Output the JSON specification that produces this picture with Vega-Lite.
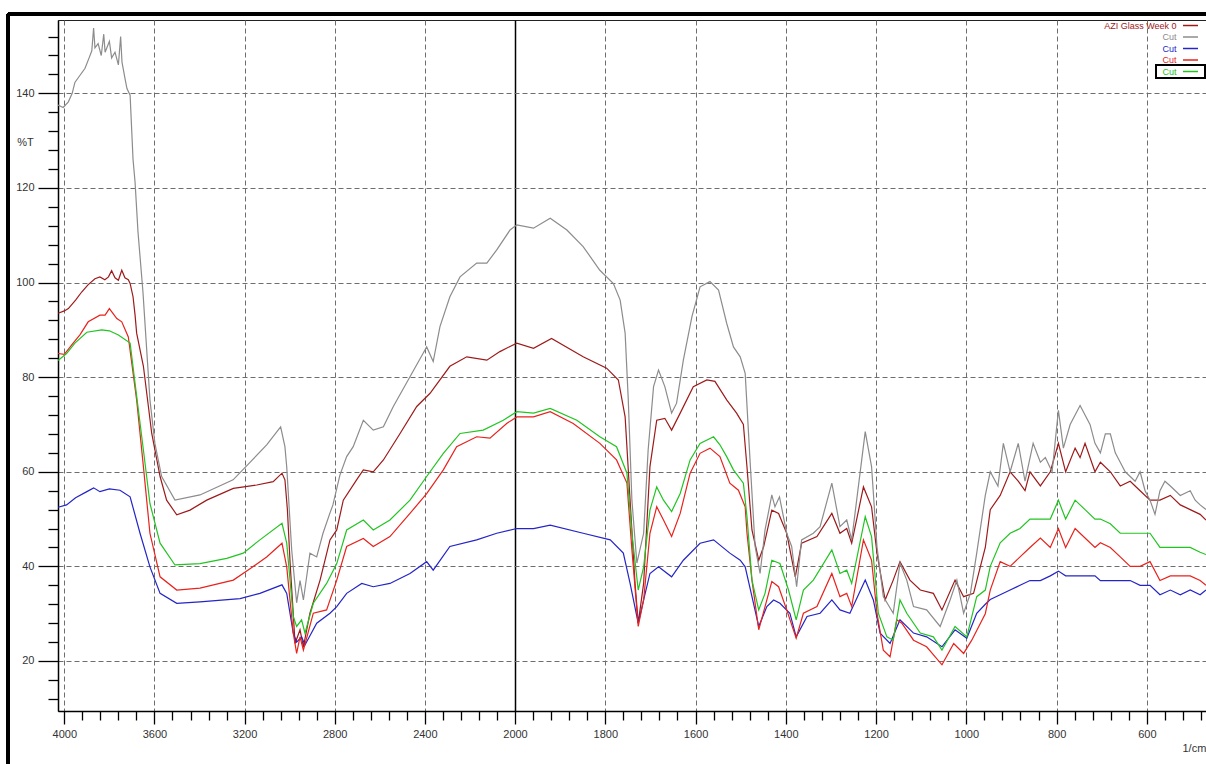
{
  "$schema": "https://vega.github.io/schema/vega-lite/v6.json",
  "width": 1148,
  "height": 691,
  "autosize": "none",
  "padding": {"left": 58, "top": 20, "right": 0, "bottom": 53},
  "background": "white",
  "config": {
    "view": {"stroke": "#222", "strokeWidth": 1},
    "font": "Liberation Sans"
  },
  "data": {"values": [
    {"s":"AZI Glass Week 0","w":4028,"t":93.5},{"s":"AZI Glass Week 0","w":4000,"t":94},{"s":"AZI Glass Week 0","w":3982,"t":94.5},{"s":"AZI Glass Week 0","w":3950,"t":96.3},{"s":"AZI Glass Week 0","w":3923,"t":98},{"s":"AZI Glass Week 0","w":3895,"t":99.5},{"s":"AZI Glass Week 0","w":3864,"t":100.8},{"s":"AZI Glass Week 0","w":3842,"t":101.2},{"s":"AZI Glass Week 0","w":3820,"t":100.6},{"s":"AZI Glass Week 0","w":3804,"t":101.2},{"s":"AZI Glass Week 0","w":3790,"t":102.5},{"s":"AZI Glass Week 0","w":3775,"t":101},{"s":"AZI Glass Week 0","w":3760,"t":100.5},{"s":"AZI Glass Week 0","w":3745,"t":102.6},{"s":"AZI Glass Week 0","w":3731,"t":101},{"s":"AZI Glass Week 0","w":3716,"t":100.6},{"s":"AZI Glass Week 0","w":3708,"t":99.8},{"s":"AZI Glass Week 0","w":3695,"t":97},{"s":"AZI Glass Week 0","w":3686,"t":93.1},{"s":"AZI Glass Week 0","w":3679,"t":89.3},{"s":"AZI Glass Week 0","w":3649,"t":82.3},{"s":"AZI Glass Week 0","w":3612,"t":68.1},{"s":"AZI Glass Week 0","w":3575,"t":59},{"s":"AZI Glass Week 0","w":3546,"t":54},{"s":"AZI Glass Week 0","w":3501,"t":50.9},{"s":"AZI Glass Week 0","w":3442,"t":51.9},{"s":"AZI Glass Week 0","w":3368,"t":54},{"s":"AZI Glass Week 0","w":3250,"t":56.5},{"s":"AZI Glass Week 0","w":3146,"t":57.2},{"s":"AZI Glass Week 0","w":3073,"t":57.9},{"s":"AZI Glass Week 0","w":3034,"t":59.7},{"s":"AZI Glass Week 0","w":3021,"t":58.3},{"s":"AZI Glass Week 0","w":3010,"t":52},{"s":"AZI Glass Week 0","w":2998,"t":40.7},{"s":"AZI Glass Week 0","w":2984,"t":30},{"s":"AZI Glass Week 0","w":2976,"t":23.7},{"s":"AZI Glass Week 0","w":2954,"t":26.6},{"s":"AZI Glass Week 0","w":2939,"t":23},{"s":"AZI Glass Week 0","w":2910,"t":30.1},{"s":"AZI Glass Week 0","w":2865,"t":37.1},{"s":"AZI Glass Week 0","w":2821,"t":45.6},{"s":"AZI Glass Week 0","w":2791,"t":47.7},{"s":"AZI Glass Week 0","w":2762,"t":54},{"s":"AZI Glass Week 0","w":2703,"t":58.3},{"s":"AZI Glass Week 0","w":2673,"t":60.4},{"s":"AZI Glass Week 0","w":2629,"t":60},{"s":"AZI Glass Week 0","w":2584,"t":62.5},{"s":"AZI Glass Week 0","w":2510,"t":68.1},{"s":"AZI Glass Week 0","w":2436,"t":73.8},{"s":"AZI Glass Week 0","w":2377,"t":76.6},{"s":"AZI Glass Week 0","w":2289,"t":82.3},{"s":"AZI Glass Week 0","w":2214,"t":84.3},{"s":"AZI Glass Week 0","w":2125,"t":83.6},{"s":"AZI Glass Week 0","w":2067,"t":85.4},{"s":"AZI Glass Week 0","w":2022,"t":86.5},{"s":"AZI Glass Week 0","w":1996,"t":87.2},{"s":"AZI Glass Week 0","w":1959,"t":86.1},{"s":"AZI Glass Week 0","w":1919,"t":88.2},{"s":"AZI Glass Week 0","w":1849,"t":84.3},{"s":"AZI Glass Week 0","w":1797,"t":81.9},{"s":"AZI Glass Week 0","w":1771,"t":79.4},{"s":"AZI Glass Week 0","w":1756,"t":71.6},{"s":"AZI Glass Week 0","w":1745,"t":54},{"s":"AZI Glass Week 0","w":1734,"t":36.4},{"s":"AZI Glass Week 0","w":1727,"t":28},{"s":"AZI Glass Week 0","w":1715,"t":36.4},{"s":"AZI Glass Week 0","w":1701,"t":61.1},{"s":"AZI Glass Week 0","w":1686,"t":70.9},{"s":"AZI Glass Week 0","w":1668,"t":71.3},{"s":"AZI Glass Week 0","w":1653,"t":68.8},{"s":"AZI Glass Week 0","w":1634,"t":72.4},{"s":"AZI Glass Week 0","w":1605,"t":78},{"s":"AZI Glass Week 0","w":1575,"t":79.4},{"s":"AZI Glass Week 0","w":1557,"t":79.1},{"s":"AZI Glass Week 0","w":1531,"t":75.2},{"s":"AZI Glass Week 0","w":1509,"t":72.4},{"s":"AZI Glass Week 0","w":1494,"t":70},{"s":"AZI Glass Week 0","w":1486,"t":61},{"s":"AZI Glass Week 0","w":1475,"t":47.7},{"s":"AZI Glass Week 0","w":1460,"t":41.3},{"s":"AZI Glass Week 0","w":1449,"t":44.2},{"s":"AZI Glass Week 0","w":1431,"t":51.9},{"s":"AZI Glass Week 0","w":1416,"t":51.2},{"s":"AZI Glass Week 0","w":1398,"t":47},{"s":"AZI Glass Week 0","w":1379,"t":37.8},{"s":"AZI Glass Week 0","w":1365,"t":44.9},{"s":"AZI Glass Week 0","w":1331,"t":46.3},{"s":"AZI Glass Week 0","w":1298,"t":51.2},{"s":"AZI Glass Week 0","w":1280,"t":47},{"s":"AZI Glass Week 0","w":1265,"t":48},{"s":"AZI Glass Week 0","w":1254,"t":44.9},{"s":"AZI Glass Week 0","w":1228,"t":56.8},{"s":"AZI Glass Week 0","w":1210,"t":52.6},{"s":"AZI Glass Week 0","w":1198,"t":42.8},{"s":"AZI Glass Week 0","w":1180,"t":32.9},{"s":"AZI Glass Week 0","w":1162,"t":37.1},{"s":"AZI Glass Week 0","w":1147,"t":41},{"s":"AZI Glass Week 0","w":1125,"t":37.1},{"s":"AZI Glass Week 0","w":1102,"t":35},{"s":"AZI Glass Week 0","w":1073,"t":34.3},{"s":"AZI Glass Week 0","w":1054,"t":30.8},{"s":"AZI Glass Week 0","w":1025,"t":37.1},{"s":"AZI Glass Week 0","w":1006,"t":33.6},{"s":"AZI Glass Week 0","w":984,"t":34.3},{"s":"AZI Glass Week 0","w":958,"t":44},{"s":"AZI Glass Week 0","w":947,"t":52},{"s":"AZI Glass Week 0","w":925,"t":55},{"s":"AZI Glass Week 0","w":903,"t":60},{"s":"AZI Glass Week 0","w":885,"t":58},{"s":"AZI Glass Week 0","w":870,"t":56},{"s":"AZI Glass Week 0","w":859,"t":60},{"s":"AZI Glass Week 0","w":836,"t":57},{"s":"AZI Glass Week 0","w":814,"t":60},{"s":"AZI Glass Week 0","w":796,"t":66},{"s":"AZI Glass Week 0","w":780,"t":60},{"s":"AZI Glass Week 0","w":759,"t":65},{"s":"AZI Glass Week 0","w":748,"t":63},{"s":"AZI Glass Week 0","w":737,"t":66},{"s":"AZI Glass Week 0","w":715,"t":60},{"s":"AZI Glass Week 0","w":703,"t":62},{"s":"AZI Glass Week 0","w":681,"t":60},{"s":"AZI Glass Week 0","w":659,"t":57},{"s":"AZI Glass Week 0","w":637,"t":58},{"s":"AZI Glass Week 0","w":615,"t":56},{"s":"AZI Glass Week 0","w":593,"t":54},{"s":"AZI Glass Week 0","w":571,"t":54},{"s":"AZI Glass Week 0","w":548,"t":55},{"s":"AZI Glass Week 0","w":526,"t":53},{"s":"AZI Glass Week 0","w":504,"t":52},{"s":"AZI Glass Week 0","w":482,"t":51},{"s":"AZI Glass Week 0","w":469,"t":49.8},

    {"s":"Cut 1","w":4028,"t":137.5},{"s":"Cut 1","w":4005,"t":137},{"s":"Cut 1","w":3982,"t":138.2},{"s":"Cut 1","w":3965,"t":140},{"s":"Cut 1","w":3953,"t":142.3},{"s":"Cut 1","w":3935,"t":143.5},{"s":"Cut 1","w":3908,"t":145.3},{"s":"Cut 1","w":3890,"t":147.5},{"s":"Cut 1","w":3878,"t":149},{"s":"Cut 1","w":3870,"t":153.8},{"s":"Cut 1","w":3864,"t":149.6},{"s":"Cut 1","w":3850,"t":150.5},{"s":"Cut 1","w":3836,"t":148},{"s":"Cut 1","w":3825,"t":152.5},{"s":"Cut 1","w":3819,"t":148.7},{"s":"Cut 1","w":3800,"t":151},{"s":"Cut 1","w":3790,"t":147.5},{"s":"Cut 1","w":3775,"t":148.7},{"s":"Cut 1","w":3760,"t":146},{"s":"Cut 1","w":3750,"t":152},{"s":"Cut 1","w":3744,"t":146.6},{"s":"Cut 1","w":3731,"t":143.2},{"s":"Cut 1","w":3722,"t":141},{"s":"Cut 1","w":3708,"t":139.6},{"s":"Cut 1","w":3695,"t":126},{"s":"Cut 1","w":3686,"t":121.2},{"s":"Cut 1","w":3673,"t":110.7},{"s":"Cut 1","w":3651,"t":98},{"s":"Cut 1","w":3620,"t":75.2},{"s":"Cut 1","w":3598,"t":66},{"s":"Cut 1","w":3568,"t":59},{"s":"Cut 1","w":3509,"t":54},{"s":"Cut 1","w":3398,"t":55.1},{"s":"Cut 1","w":3251,"t":58.3},{"s":"Cut 1","w":3176,"t":62},{"s":"Cut 1","w":3102,"t":65.7},{"s":"Cut 1","w":3040,"t":69.5},{"s":"Cut 1","w":3021,"t":65.3},{"s":"Cut 1","w":3013,"t":61},{"s":"Cut 1","w":2991,"t":43.5},{"s":"Cut 1","w":2969,"t":32.3},{"s":"Cut 1","w":2954,"t":37},{"s":"Cut 1","w":2939,"t":32.9},{"s":"Cut 1","w":2910,"t":42.8},{"s":"Cut 1","w":2880,"t":42},{"s":"Cut 1","w":2852,"t":47},{"s":"Cut 1","w":2821,"t":51.3},{"s":"Cut 1","w":2808,"t":53},{"s":"Cut 1","w":2777,"t":59.3},{"s":"Cut 1","w":2747,"t":63.2},{"s":"Cut 1","w":2718,"t":65.3},{"s":"Cut 1","w":2673,"t":70.9},{"s":"Cut 1","w":2629,"t":68.8},{"s":"Cut 1","w":2584,"t":69.5},{"s":"Cut 1","w":2540,"t":73.8},{"s":"Cut 1","w":2466,"t":80.1},{"s":"Cut 1","w":2407,"t":85.1},{"s":"Cut 1","w":2392,"t":86.4},{"s":"Cut 1","w":2363,"t":83.3},{"s":"Cut 1","w":2333,"t":90.7},{"s":"Cut 1","w":2289,"t":97},{"s":"Cut 1","w":2244,"t":101.2},{"s":"Cut 1","w":2170,"t":104.1},{"s":"Cut 1","w":2125,"t":104.1},{"s":"Cut 1","w":2081,"t":106.9},{"s":"Cut 1","w":2022,"t":111.1},{"s":"Cut 1","w":1996,"t":112.2},{"s":"Cut 1","w":1959,"t":111.5},{"s":"Cut 1","w":1922,"t":113.6},{"s":"Cut 1","w":1885,"t":111.1},{"s":"Cut 1","w":1849,"t":107.6},{"s":"Cut 1","w":1812,"t":102.6},{"s":"Cut 1","w":1782,"t":99.8},{"s":"Cut 1","w":1767,"t":96.3},{"s":"Cut 1","w":1756,"t":89.3},{"s":"Cut 1","w":1749,"t":75.2},{"s":"Cut 1","w":1741,"t":54},{"s":"Cut 1","w":1730,"t":40.7},{"s":"Cut 1","w":1715,"t":47},{"s":"Cut 1","w":1705,"t":64.6},{"s":"Cut 1","w":1693,"t":78},{"s":"Cut 1","w":1682,"t":81.5},{"s":"Cut 1","w":1668,"t":78},{"s":"Cut 1","w":1653,"t":72.4},{"s":"Cut 1","w":1642,"t":74.5},{"s":"Cut 1","w":1627,"t":83.6},{"s":"Cut 1","w":1608,"t":92.8},{"s":"Cut 1","w":1590,"t":99.1},{"s":"Cut 1","w":1568,"t":100.2},{"s":"Cut 1","w":1549,"t":98.4},{"s":"Cut 1","w":1531,"t":91.4},{"s":"Cut 1","w":1516,"t":86.4},{"s":"Cut 1","w":1501,"t":84.3},{"s":"Cut 1","w":1490,"t":80.8},{"s":"Cut 1","w":1479,"t":62},{"s":"Cut 1","w":1468,"t":44.2},{"s":"Cut 1","w":1457,"t":38.5},{"s":"Cut 1","w":1446,"t":47.7},{"s":"Cut 1","w":1431,"t":55.1},{"s":"Cut 1","w":1424,"t":52.6},{"s":"Cut 1","w":1414,"t":54.7},{"s":"Cut 1","w":1398,"t":47},{"s":"Cut 1","w":1387,"t":44.2},{"s":"Cut 1","w":1376,"t":35.7},{"s":"Cut 1","w":1365,"t":45.6},{"s":"Cut 1","w":1339,"t":47},{"s":"Cut 1","w":1324,"t":48.4},{"s":"Cut 1","w":1298,"t":57.6},{"s":"Cut 1","w":1280,"t":48.4},{"s":"Cut 1","w":1265,"t":49.8},{"s":"Cut 1","w":1254,"t":45.6},{"s":"Cut 1","w":1243,"t":54},{"s":"Cut 1","w":1224,"t":68.5},{"s":"Cut 1","w":1210,"t":61.1},{"s":"Cut 1","w":1198,"t":44.2},{"s":"Cut 1","w":1184,"t":33.6},{"s":"Cut 1","w":1162,"t":30.1},{"s":"Cut 1","w":1147,"t":40.7},{"s":"Cut 1","w":1132,"t":37.1},{"s":"Cut 1","w":1117,"t":31.5},{"s":"Cut 1","w":1088,"t":30.8},{"s":"Cut 1","w":1058,"t":27.3},{"s":"Cut 1","w":1036,"t":32.9},{"s":"Cut 1","w":1021,"t":37.1},{"s":"Cut 1","w":1006,"t":30.1},{"s":"Cut 1","w":991,"t":34.3},{"s":"Cut 1","w":977,"t":42.8},{"s":"Cut 1","w":958,"t":55},{"s":"Cut 1","w":947,"t":60},{"s":"Cut 1","w":930,"t":57},{"s":"Cut 1","w":918,"t":66},{"s":"Cut 1","w":903,"t":60},{"s":"Cut 1","w":885,"t":66},{"s":"Cut 1","w":870,"t":58},{"s":"Cut 1","w":852,"t":66},{"s":"Cut 1","w":836,"t":62},{"s":"Cut 1","w":825,"t":63},{"s":"Cut 1","w":810,"t":60},{"s":"Cut 1","w":796,"t":73},{"s":"Cut 1","w":785,"t":65},{"s":"Cut 1","w":770,"t":70},{"s":"Cut 1","w":759,"t":72},{"s":"Cut 1","w":748,"t":74},{"s":"Cut 1","w":737,"t":72},{"s":"Cut 1","w":726,"t":70},{"s":"Cut 1","w":715,"t":66},{"s":"Cut 1","w":703,"t":64},{"s":"Cut 1","w":692,"t":68},{"s":"Cut 1","w":681,"t":68},{"s":"Cut 1","w":670,"t":64},{"s":"Cut 1","w":659,"t":62},{"s":"Cut 1","w":648,"t":60},{"s":"Cut 1","w":637,"t":59},{"s":"Cut 1","w":626,"t":58},{"s":"Cut 1","w":615,"t":60},{"s":"Cut 1","w":604,"t":56},{"s":"Cut 1","w":593,"t":54},{"s":"Cut 1","w":582,"t":51},{"s":"Cut 1","w":571,"t":56},{"s":"Cut 1","w":560,"t":58},{"s":"Cut 1","w":548,"t":57},{"s":"Cut 1","w":537,"t":56},{"s":"Cut 1","w":526,"t":55},{"s":"Cut 1","w":504,"t":56},{"s":"Cut 1","w":493,"t":54},{"s":"Cut 1","w":482,"t":53},{"s":"Cut 1","w":469,"t":52},

    {"s":"Cut 2","w":4028,"t":52.5},{"s":"Cut 2","w":3990,"t":53},{"s":"Cut 2","w":3950,"t":54.5},{"s":"Cut 2","w":3900,"t":55.8},{"s":"Cut 2","w":3870,"t":56.6},{"s":"Cut 2","w":3842,"t":55.8},{"s":"Cut 2","w":3800,"t":56.4},{"s":"Cut 2","w":3753,"t":56.1},{"s":"Cut 2","w":3708,"t":54.7},{"s":"Cut 2","w":3664,"t":47},{"s":"Cut 2","w":3620,"t":39.9},{"s":"Cut 2","w":3575,"t":34.3},{"s":"Cut 2","w":3501,"t":32.2},{"s":"Cut 2","w":3398,"t":32.5},{"s":"Cut 2","w":3220,"t":33.2},{"s":"Cut 2","w":3132,"t":34.3},{"s":"Cut 2","w":3034,"t":36.1},{"s":"Cut 2","w":3013,"t":34.3},{"s":"Cut 2","w":2984,"t":25.9},{"s":"Cut 2","w":2969,"t":24},{"s":"Cut 2","w":2947,"t":25.1},{"s":"Cut 2","w":2932,"t":23.4},{"s":"Cut 2","w":2880,"t":28},{"s":"Cut 2","w":2821,"t":30.1},{"s":"Cut 2","w":2791,"t":31.5},{"s":"Cut 2","w":2747,"t":34.3},{"s":"Cut 2","w":2680,"t":36.4},{"s":"Cut 2","w":2629,"t":35.7},{"s":"Cut 2","w":2555,"t":36.4},{"s":"Cut 2","w":2466,"t":38.5},{"s":"Cut 2","w":2392,"t":41},{"s":"Cut 2","w":2363,"t":39.2},{"s":"Cut 2","w":2289,"t":44.2},{"s":"Cut 2","w":2170,"t":45.6},{"s":"Cut 2","w":2081,"t":47},{"s":"Cut 2","w":1996,"t":48},{"s":"Cut 2","w":1959,"t":48},{"s":"Cut 2","w":1922,"t":48.7},{"s":"Cut 2","w":1849,"t":47},{"s":"Cut 2","w":1789,"t":45.6},{"s":"Cut 2","w":1760,"t":42.8},{"s":"Cut 2","w":1745,"t":36.4},{"s":"Cut 2","w":1727,"t":28},{"s":"Cut 2","w":1715,"t":32.9},{"s":"Cut 2","w":1701,"t":38.5},{"s":"Cut 2","w":1682,"t":39.9},{"s":"Cut 2","w":1653,"t":37.8},{"s":"Cut 2","w":1627,"t":41.3},{"s":"Cut 2","w":1590,"t":44.9},{"s":"Cut 2","w":1560,"t":45.6},{"s":"Cut 2","w":1524,"t":42.8},{"s":"Cut 2","w":1501,"t":41.3},{"s":"Cut 2","w":1490,"t":39.9},{"s":"Cut 2","w":1475,"t":33.6},{"s":"Cut 2","w":1460,"t":27.3},{"s":"Cut 2","w":1442,"t":31.5},{"s":"Cut 2","w":1427,"t":32.9},{"s":"Cut 2","w":1413,"t":32.2},{"s":"Cut 2","w":1391,"t":30.1},{"s":"Cut 2","w":1377,"t":25.1},{"s":"Cut 2","w":1353,"t":29.4},{"s":"Cut 2","w":1324,"t":30.1},{"s":"Cut 2","w":1298,"t":32.9},{"s":"Cut 2","w":1280,"t":30.8},{"s":"Cut 2","w":1258,"t":30.1},{"s":"Cut 2","w":1224,"t":37.1},{"s":"Cut 2","w":1206,"t":32.9},{"s":"Cut 2","w":1191,"t":25.9},{"s":"Cut 2","w":1169,"t":23.7},{"s":"Cut 2","w":1147,"t":28.7},{"s":"Cut 2","w":1117,"t":25.9},{"s":"Cut 2","w":1088,"t":25.1},{"s":"Cut 2","w":1054,"t":23},{"s":"Cut 2","w":1025,"t":26.6},{"s":"Cut 2","w":999,"t":24.8},{"s":"Cut 2","w":977,"t":30.1},{"s":"Cut 2","w":958,"t":32},{"s":"Cut 2","w":947,"t":33},{"s":"Cut 2","w":925,"t":34},{"s":"Cut 2","w":903,"t":35},{"s":"Cut 2","w":881,"t":36},{"s":"Cut 2","w":859,"t":37},{"s":"Cut 2","w":836,"t":37},{"s":"Cut 2","w":814,"t":38},{"s":"Cut 2","w":796,"t":39},{"s":"Cut 2","w":780,"t":38},{"s":"Cut 2","w":759,"t":38},{"s":"Cut 2","w":737,"t":38},{"s":"Cut 2","w":715,"t":38},{"s":"Cut 2","w":703,"t":37},{"s":"Cut 2","w":681,"t":37},{"s":"Cut 2","w":659,"t":37},{"s":"Cut 2","w":637,"t":37},{"s":"Cut 2","w":615,"t":36},{"s":"Cut 2","w":593,"t":36},{"s":"Cut 2","w":571,"t":34},{"s":"Cut 2","w":548,"t":35},{"s":"Cut 2","w":526,"t":34},{"s":"Cut 2","w":504,"t":35},{"s":"Cut 2","w":482,"t":34},{"s":"Cut 2","w":469,"t":35},

    {"s":"Cut 3","w":4028,"t":85},{"s":"Cut 3","w":4000,"t":84.8},{"s":"Cut 3","w":3967,"t":86.8},{"s":"Cut 3","w":3930,"t":89},{"s":"Cut 3","w":3894,"t":91.7},{"s":"Cut 3","w":3842,"t":93.1},{"s":"Cut 3","w":3819,"t":93.1},{"s":"Cut 3","w":3800,"t":94.5},{"s":"Cut 3","w":3767,"t":92.4},{"s":"Cut 3","w":3745,"t":91.7},{"s":"Cut 3","w":3716,"t":88.5},{"s":"Cut 3","w":3679,"t":75.2},{"s":"Cut 3","w":3649,"t":61.1},{"s":"Cut 3","w":3620,"t":47},{"s":"Cut 3","w":3575,"t":37.8},{"s":"Cut 3","w":3501,"t":35},{"s":"Cut 3","w":3398,"t":35.4},{"s":"Cut 3","w":3250,"t":37.1},{"s":"Cut 3","w":3176,"t":39.5},{"s":"Cut 3","w":3102,"t":42},{"s":"Cut 3","w":3034,"t":44.9},{"s":"Cut 3","w":3013,"t":39.9},{"s":"Cut 3","w":2984,"t":25.9},{"s":"Cut 3","w":2969,"t":21.6},{"s":"Cut 3","w":2954,"t":25.1},{"s":"Cut 3","w":2939,"t":22.3},{"s":"Cut 3","w":2895,"t":30.1},{"s":"Cut 3","w":2836,"t":30.8},{"s":"Cut 3","w":2791,"t":37.1},{"s":"Cut 3","w":2747,"t":44.2},{"s":"Cut 3","w":2673,"t":45.9},{"s":"Cut 3","w":2629,"t":44.2},{"s":"Cut 3","w":2555,"t":46.3},{"s":"Cut 3","w":2466,"t":51.2},{"s":"Cut 3","w":2392,"t":55.4},{"s":"Cut 3","w":2318,"t":60.4},{"s":"Cut 3","w":2259,"t":65.3},{"s":"Cut 3","w":2170,"t":67.4},{"s":"Cut 3","w":2111,"t":67.1},{"s":"Cut 3","w":2037,"t":70.2},{"s":"Cut 3","w":1996,"t":71.6},{"s":"Cut 3","w":1959,"t":71.6},{"s":"Cut 3","w":1922,"t":72.7},{"s":"Cut 3","w":1871,"t":70.2},{"s":"Cut 3","w":1812,"t":66},{"s":"Cut 3","w":1775,"t":62.5},{"s":"Cut 3","w":1752,"t":57.6},{"s":"Cut 3","w":1741,"t":43.5},{"s":"Cut 3","w":1727,"t":27.3},{"s":"Cut 3","w":1715,"t":32.9},{"s":"Cut 3","w":1701,"t":47},{"s":"Cut 3","w":1686,"t":52.6},{"s":"Cut 3","w":1671,"t":49.8},{"s":"Cut 3","w":1653,"t":46.3},{"s":"Cut 3","w":1634,"t":51.2},{"s":"Cut 3","w":1612,"t":59.7},{"s":"Cut 3","w":1590,"t":63.9},{"s":"Cut 3","w":1568,"t":65},{"s":"Cut 3","w":1546,"t":63.2},{"s":"Cut 3","w":1524,"t":57.6},{"s":"Cut 3","w":1505,"t":56.1},{"s":"Cut 3","w":1490,"t":52.6},{"s":"Cut 3","w":1486,"t":47},{"s":"Cut 3","w":1475,"t":37.1},{"s":"Cut 3","w":1460,"t":26.6},{"s":"Cut 3","w":1446,"t":31.5},{"s":"Cut 3","w":1431,"t":36.8},{"s":"Cut 3","w":1416,"t":35.7},{"s":"Cut 3","w":1398,"t":30.8},{"s":"Cut 3","w":1377,"t":24.8},{"s":"Cut 3","w":1361,"t":30.1},{"s":"Cut 3","w":1331,"t":31.5},{"s":"Cut 3","w":1298,"t":38.5},{"s":"Cut 3","w":1280,"t":33.6},{"s":"Cut 3","w":1265,"t":34.3},{"s":"Cut 3","w":1254,"t":31.5},{"s":"Cut 3","w":1228,"t":45.6},{"s":"Cut 3","w":1210,"t":41.3},{"s":"Cut 3","w":1198,"t":30.1},{"s":"Cut 3","w":1184,"t":22.3},{"s":"Cut 3","w":1169,"t":20.9},{"s":"Cut 3","w":1154,"t":28.7},{"s":"Cut 3","w":1143,"t":28},{"s":"Cut 3","w":1117,"t":24.4},{"s":"Cut 3","w":1088,"t":23},{"s":"Cut 3","w":1054,"t":19.2},{"s":"Cut 3","w":1028,"t":23.7},{"s":"Cut 3","w":1006,"t":21.6},{"s":"Cut 3","w":988,"t":24.4},{"s":"Cut 3","w":958,"t":30},{"s":"Cut 3","w":947,"t":35},{"s":"Cut 3","w":925,"t":41},{"s":"Cut 3","w":903,"t":40},{"s":"Cut 3","w":881,"t":42},{"s":"Cut 3","w":859,"t":44},{"s":"Cut 3","w":836,"t":46},{"s":"Cut 3","w":814,"t":44},{"s":"Cut 3","w":796,"t":48},{"s":"Cut 3","w":780,"t":44},{"s":"Cut 3","w":759,"t":48},{"s":"Cut 3","w":737,"t":46},{"s":"Cut 3","w":715,"t":44},{"s":"Cut 3","w":703,"t":45},{"s":"Cut 3","w":681,"t":44},{"s":"Cut 3","w":659,"t":42},{"s":"Cut 3","w":637,"t":40},{"s":"Cut 3","w":615,"t":40},{"s":"Cut 3","w":593,"t":41},{"s":"Cut 3","w":571,"t":37},{"s":"Cut 3","w":548,"t":38},{"s":"Cut 3","w":526,"t":38},{"s":"Cut 3","w":504,"t":38},{"s":"Cut 3","w":482,"t":37},{"s":"Cut 3","w":469,"t":36},

    {"s":"Cut 4","w":4028,"t":83.5},{"s":"Cut 4","w":3990,"t":85},{"s":"Cut 4","w":3953,"t":87.2},{"s":"Cut 4","w":3900,"t":89.5},{"s":"Cut 4","w":3834,"t":90},{"s":"Cut 4","w":3800,"t":89.8},{"s":"Cut 4","w":3760,"t":88.9},{"s":"Cut 4","w":3708,"t":87.2},{"s":"Cut 4","w":3686,"t":78.7},{"s":"Cut 4","w":3649,"t":64.6},{"s":"Cut 4","w":3620,"t":53.3},{"s":"Cut 4","w":3575,"t":44.9},{"s":"Cut 4","w":3509,"t":40.3},{"s":"Cut 4","w":3398,"t":40.6},{"s":"Cut 4","w":3279,"t":41.7},{"s":"Cut 4","w":3206,"t":42.8},{"s":"Cut 4","w":3132,"t":45.6},{"s":"Cut 4","w":3034,"t":49.1},{"s":"Cut 4","w":3013,"t":44.9},{"s":"Cut 4","w":2984,"t":29.4},{"s":"Cut 4","w":2969,"t":27.3},{"s":"Cut 4","w":2947,"t":28.7},{"s":"Cut 4","w":2932,"t":25.9},{"s":"Cut 4","w":2895,"t":32.2},{"s":"Cut 4","w":2836,"t":36.4},{"s":"Cut 4","w":2791,"t":40.6},{"s":"Cut 4","w":2747,"t":47.7},{"s":"Cut 4","w":2673,"t":49.8},{"s":"Cut 4","w":2629,"t":47.7},{"s":"Cut 4","w":2555,"t":49.8},{"s":"Cut 4","w":2466,"t":54},{"s":"Cut 4","w":2392,"t":59},{"s":"Cut 4","w":2318,"t":63.9},{"s":"Cut 4","w":2244,"t":68.1},{"s":"Cut 4","w":2141,"t":68.8},{"s":"Cut 4","w":2052,"t":70.9},{"s":"Cut 4","w":1996,"t":72.7},{"s":"Cut 4","w":1959,"t":72.4},{"s":"Cut 4","w":1922,"t":73.4},{"s":"Cut 4","w":1863,"t":70.9},{"s":"Cut 4","w":1812,"t":67.4},{"s":"Cut 4","w":1775,"t":65.3},{"s":"Cut 4","w":1752,"t":59.7},{"s":"Cut 4","w":1741,"t":47},{"s":"Cut 4","w":1727,"t":35},{"s":"Cut 4","w":1715,"t":39.9},{"s":"Cut 4","w":1701,"t":51.9},{"s":"Cut 4","w":1686,"t":56.8},{"s":"Cut 4","w":1671,"t":54},{"s":"Cut 4","w":1653,"t":51.6},{"s":"Cut 4","w":1634,"t":55.4},{"s":"Cut 4","w":1612,"t":62.5},{"s":"Cut 4","w":1590,"t":66},{"s":"Cut 4","w":1560,"t":67.4},{"s":"Cut 4","w":1546,"t":65.7},{"s":"Cut 4","w":1531,"t":63.2},{"s":"Cut 4","w":1516,"t":60.4},{"s":"Cut 4","w":1494,"t":57.6},{"s":"Cut 4","w":1486,"t":50.5},{"s":"Cut 4","w":1475,"t":37.1},{"s":"Cut 4","w":1460,"t":30.8},{"s":"Cut 4","w":1446,"t":34.3},{"s":"Cut 4","w":1431,"t":41.3},{"s":"Cut 4","w":1413,"t":40.6},{"s":"Cut 4","w":1394,"t":35},{"s":"Cut 4","w":1377,"t":28.7},{"s":"Cut 4","w":1361,"t":35},{"s":"Cut 4","w":1339,"t":37.1},{"s":"Cut 4","w":1298,"t":43.5},{"s":"Cut 4","w":1280,"t":38.5},{"s":"Cut 4","w":1265,"t":39.2},{"s":"Cut 4","w":1254,"t":36.4},{"s":"Cut 4","w":1224,"t":50.5},{"s":"Cut 4","w":1210,"t":46.3},{"s":"Cut 4","w":1195,"t":30.1},{"s":"Cut 4","w":1176,"t":25.1},{"s":"Cut 4","w":1162,"t":24.4},{"s":"Cut 4","w":1147,"t":32.9},{"s":"Cut 4","w":1132,"t":30.1},{"s":"Cut 4","w":1102,"t":25.9},{"s":"Cut 4","w":1073,"t":25.1},{"s":"Cut 4","w":1054,"t":22.3},{"s":"Cut 4","w":1025,"t":27.3},{"s":"Cut 4","w":999,"t":25.1},{"s":"Cut 4","w":977,"t":33.6},{"s":"Cut 4","w":958,"t":35},{"s":"Cut 4","w":947,"t":40},{"s":"Cut 4","w":925,"t":45},{"s":"Cut 4","w":903,"t":47},{"s":"Cut 4","w":881,"t":48},{"s":"Cut 4","w":859,"t":50},{"s":"Cut 4","w":836,"t":50},{"s":"Cut 4","w":814,"t":50},{"s":"Cut 4","w":796,"t":54},{"s":"Cut 4","w":780,"t":50},{"s":"Cut 4","w":759,"t":54},{"s":"Cut 4","w":737,"t":52},{"s":"Cut 4","w":715,"t":50},{"s":"Cut 4","w":703,"t":50},{"s":"Cut 4","w":681,"t":49},{"s":"Cut 4","w":659,"t":47},{"s":"Cut 4","w":637,"t":47},{"s":"Cut 4","w":615,"t":47},{"s":"Cut 4","w":593,"t":47},{"s":"Cut 4","w":571,"t":44},{"s":"Cut 4","w":548,"t":44},{"s":"Cut 4","w":526,"t":44},{"s":"Cut 4","w":504,"t":44},{"s":"Cut 4","w":482,"t":43},{"s":"Cut 4","w":469,"t":42.5}
  ]},
  "layer": [
    {
      "mark": {"type": "line", "strokeWidth": 1.2, "clip": true},
      "encoding": {
        "x": {
          "field": "w", "type": "quantitative",
          "scale": {"domain": [4028, 2000, 469], "range": [0, 457, 1148], "nice": false, "zero": false},
          "axis": {
            "values": [4000,3920,3840,3760,3680,3600,3520,3440,3360,3280,3200,3120,3040,2960,2880,2800,2720,2640,2560,2480,2400,2320,2240,2160,2080,2000,1960,1920,1880,1840,1800,1760,1720,1680,1640,1600,1560,1520,1480,1440,1400,1360,1320,1280,1240,1200,1160,1120,1080,1040,1000,960,920,880,840,800,760,720,680,640,600,560,520,480],
            "tickCount": 500,
            "format": "d",
            "labelExpr": "((datum.value >= 2000 && datum.value % 400 === 0) || (datum.value < 2000 && datum.value % 200 === 0)) ? datum.label : ''",
            "labelFont": "Liberation Sans", "labelFontSize": 11, "labelColor": "#333", "labelPadding": 4,
            "labelFlush": false, "labelOverlap": false,
            "domainColor": "#000", "domainWidth": 1.5,
            "tickColor": "#000", "tickWidth": 1.3,
            "tickSize": {"condition": {"test": "((datum.value >= 2000 && datum.value % 400 === 0) || (datum.value < 2000 && datum.value % 200 === 0))", "value": 13}, "value": 9},
            "grid": true,
            "gridOpacity": {"condition": {"test": "((datum.value >= 2000 && datum.value % 400 === 0) || (datum.value < 2000 && datum.value % 200 === 0))", "value": 1}, "value": 0},
            "gridColor": {"condition": {"test": "(datum.value === 2000)", "value": "#000"}, "value": "#6e6e6e"},
            "gridDash": {"condition": {"test": "(datum.value === 2000)", "value": []}, "value": [5, 3]},
            "gridWidth": {"condition": {"test": "(datum.value === 2000)", "value": 1.5}, "value": 1},
            "title": "1/cm", "titleX": 1124, "titleY": 37, "titleAlign": "left", "titleBaseline": "middle",
            "titleFont": "Liberation Sans", "titleFontSize": 11, "titleFontWeight": "normal", "titleColor": "#333"
          }
        },
        "y": {
          "field": "t", "type": "quantitative",
          "scale": {"domain": [9.43, 155.5], "nice": false, "zero": false},
          "axis": {
            "values": [12,16,20,24,28,32,36,40,44,48,52,56,60,64,68,72,76,80,84,88,92,96,100,104,108,112,116,120,124,128,132,136,140,144,148,152],
            "tickCount": 500,
            "format": "d",
            "labelExpr": "(datum.value % 20 === 0) ? datum.label : ''",
            "labelFont": "Liberation Sans", "labelFontSize": 11, "labelColor": "#333", "labelPadding": 4,
            "labelFlush": false, "labelOverlap": false,
            "domainColor": "#000", "domainWidth": 1.5,
            "tickColor": "#000", "tickWidth": 1.3,
            "tickSize": {"condition": {"test": "(datum.value % 20 === 0)", "value": 20}, "value": 10},
            "grid": true,
            "gridOpacity": {"condition": {"test": "(datum.value % 20 === 0)", "value": 1}, "value": 0},
            "gridColor": "#6e6e6e", "gridDash": [5, 3], "gridWidth": 1,
            "title": "%T", "titleAngle": 0, "titleX": -33, "titleY": 122, "titleAlign": "center", "titleBaseline": "middle",
            "titleFont": "Liberation Sans", "titleFontSize": 11, "titleFontWeight": "normal", "titleColor": "#333"
          }
        },
        "color": {
          "field": "s", "type": "nominal",
          "scale": {
            "domain": ["AZI Glass Week 0", "Cut 1", "Cut 2", "Cut 3", "Cut 4"],
            "range": ["#9e1a1a", "#8c8c8c", "#2424c8", "#e8221c", "#22c422"]
          },
          "legend": {
            "orient": "none", "legendX": 1128, "legendY": 1,
            "title": null, "padding": 0, "rowPadding": 1.5,
            "symbolType": "M-2,0H2", "symbolSize": 56, "symbolStrokeWidth": 1.5,
            "labelFont": "Liberation Sans", "labelFontSize": 9,
            "labelAlign": "right", "labelOffset": -18.5,
            "labelExpr": "slice(datum.label, 0, 3) === 'Cut' ? 'Cut' : datum.label",
            "encode": {"labels": {"update": {"fill": {"scale": "color", "field": "value"}}}}
          }
        }
      }
    },
    {
      "mark": {"type": "rect", "fill": null, "fillOpacity": 0, "stroke": "#000", "strokeWidth": 1.3},
      "encoding": {
        "x": {"datum": 579, "type": "quantitative"},
        "x2": {"datum": 471},
        "y": {"datum": 146, "type": "quantitative"},
        "y2": {"datum": 143.2}
      }
    },
    {
      "mark": {"type": "rule", "color": "#000", "strokeWidth": 3},
      "encoding": {
        "x": {"datum": 4250, "type": "quantitative"},
        "y": {"datum": 156.77, "type": "quantitative"},
        "y2": {"datum": -5}
      }
    },
    {
      "mark": {"type": "rule", "color": "#000", "strokeWidth": 3},
      "encoding": {
        "x": {"datum": 4250, "type": "quantitative"},
        "x2": {"datum": 300},
        "y": {"datum": 156.77, "type": "quantitative"}
      }
    }
  ]
}
